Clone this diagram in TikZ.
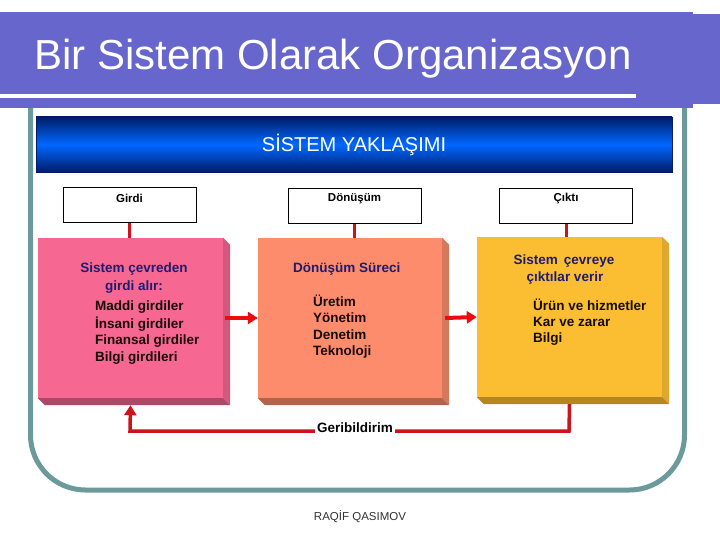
\documentclass[tikz,border=0pt]{standalone}
\usepackage{fontspec}
\setmainfont{Liberation Sans}
\usetikzlibrary{arrows.meta,calc}
\definecolor{titlepurple}{RGB}{102,102,204}
\definecolor{frameteal}{RGB}{108,154,154}
\definecolor{navyA}{RGB}{0,28,105}
\definecolor{blueB}{RGB}{0,104,255}
\definecolor{pinkF}{RGB}{246,104,146}
\definecolor{pinkS}{RGB}{212,88,126}
\definecolor{pinkB}{RGB}{172,72,104}
\definecolor{orgF}{RGB}{252,140,108}
\definecolor{orgS}{RGB}{214,120,94}
\definecolor{orgB}{RGB}{176,100,76}
\definecolor{yelF}{RGB}{251,190,50}
\definecolor{yelS}{RGB}{222,168,44}
\definecolor{yelB}{RGB}{180,136,30}
\definecolor{hdrnavy}{RGB}{30,28,112}
\definecolor{itemdark}{RGB}{24,10,10}
\definecolor{arrowred}{RGB}{236,12,12}
\definecolor{linered}{RGB}{204,20,28}
\newcommand{\boxsides}[3]{%
  \fill[#2] (#1.north east) -- ++(7,7) -- ($(#1.south east)+(7,7)$) -- (#1.south east) -- cycle;
  \fill[#3] (#1.south west) -- (#1.south east) -- ($(#1.south east)+(7,7)$) -- ($(#1.south west)+(7,7)$) -- cycle;}
\tikzset{
  topbox/.style={draw=black, line width=1pt, fill=white, minimum width=133pt, minimum height=35pt, inner sep=0pt},
  toptext/.style={font=\bfseries\fontsize{11.5}{13}\selectfont, inner sep=0pt},
  front/.style={minimum height=160pt, inner sep=0pt},
  hdr/.style={font=\bfseries\fontsize{13.5}{16}\selectfont, text=hdrnavy, inner sep=0pt},
  item/.style={font=\bfseries\fontsize{13.5}{16}\selectfont, text=itemdark, inner sep=0pt, anchor=west},
  redarrow/.style={draw=arrowred, line width=4pt, -{Triangle[length=10pt,width=12pt]}},
  redline/.style={draw=linered, line width=3pt},
  fbline/.style={draw=linered, line width=3.5pt},
}
\begin{document}
\begin{tikzpicture}[x=1pt,y=-1pt]
\useasboundingbox (0,0) rectangle (720,540);
\fill[white] (0,0) rectangle (720,540);
% frame
\draw[frameteal, line width=5pt, rounded corners=55pt] (30.5,100) -- (30.5,490) -- (684.5,490) -- (684.5,100);
% title band
\fill[titlepurple] (0,12) rectangle (693,108);
\fill[titlepurple] (693,14) rectangle (720,104);
\fill[white] (0,94.5) rectangle (636,98.5);
\node[name=title, anchor=base west, text=white, inner sep=0pt, font=\fontsize{42}{42}\selectfont] at (34,70) {Bir Sistem Olarak Organizasyon};
% blue bar
\node[name=bar, minimum width=636pt, minimum height=55pt, inner sep=0pt, top color=navyA, bottom color=navyA, middle color=blueB, draw=navyA, line width=0.6pt, text=white, font=\fontsize{20}{22}\selectfont] at (354,144.5) {SİSTEM YAKLAŞIMI};
% top boxes
\node[topbox, name=girdi] at (129.5,205.5) {};
\node[topbox, name=donusum] at (354.5,206.5) {};
\node[topbox, name=cikti] at (566,206.5) {};
\node[toptext, name=girdiT] at (129.5,198) {Girdi};
\node[toptext, name=donusumT] at (354.5,199) {Dönüşüm};
\node[toptext, name=ciktiT] at (566,199) {Çıktı};
% front faces
\node[front, name=pinkf, fill=pinkF, minimum width=185pt] at (130.5,318) {};
\node[front, name=orgf, fill=orgF, minimum width=184pt] at (350,318) {};
\node[front, name=yelf, fill=yelF, minimum width=185pt] at (569.5,317) {};
\boxsides{pinkf}{pinkS}{pinkB}
\boxsides{orgf}{orgS}{orgB}
\boxsides{yelf}{yelS}{yelB}
% vertical connectors
\draw[redline] (girdi.south) -- (girdi.south |- pinkf.north);
\draw[redline] (donusum.south) -- (donusum.south |- orgf.north);
\draw[redline] (cikti.south) -- (cikti.south |- yelf.north);
% pink texts
\node[hdr, name=p1] at (134,269) {Sistem çevreden};
\node[hdr, name=p2] at (134,287) {girdi alır:};
\node[item, name=p3] at (95,307) {Maddi girdiler};
\node[item, name=p4] at (95,324) {İnsani girdiler};
\node[item, name=p5] at (95,341) {Finansal girdiler};
\node[item, name=p6] at (95,358) {Bilgi girdileri};
% orange texts
\node[hdr, name=o1, anchor=west] at (293,269) {Dönüşüm Süreci};
\node[item, name=o2] at (313,301) {Üretim};
\node[item, name=o3] at (313,318) {Yönetim};
\node[item, name=o4] at (313,335) {Denetim};
\node[item, name=o5] at (313,352) {Teknoloji};
% yellow texts
\node[hdr, name=y1] at (564,261) {Sistem \,çevreye};
\node[hdr, name=y2] at (565,278) {çıktılar verir};
\node[item, name=y3] at (533,305) {Ürün ve hizmetler};
\node[item, name=y4] at (533,322) {Kar ve zarar};
\node[item, name=y5] at (533,339) {Bilgi};
% horizontal arrows
\draw[redarrow] ($(pinkf.east)+(2,0)$) -- (orgf.west);
\draw[redarrow] ($(orgf.east)+(3,0)$) -- (yelf.west);
% feedback
\node[name=geri, font=\bfseries\fontsize{13.5}{16}\selectfont, inner sep=2pt] at (355,428) {Geribildirim};
\coordinate (fbR) at (569,431);
\coordinate (fbL) at (130,431);
\draw[fbline] ($(yelf.south)+(0,7)$) -- (fbR) -- (fbR -| geri.east);
\draw[fbline, -{Triangle[length=10pt,width=12pt]}] (fbL -| geri.west) -- (fbL) -- ($(pinkf.south)+(0,7)$);
% footer
\node[name=footer, font=\fontsize{11.5}{13}\selectfont, text=black!80] at (360,517) {RAQİF QASIMOV};
\end{tikzpicture}
\end{document}
